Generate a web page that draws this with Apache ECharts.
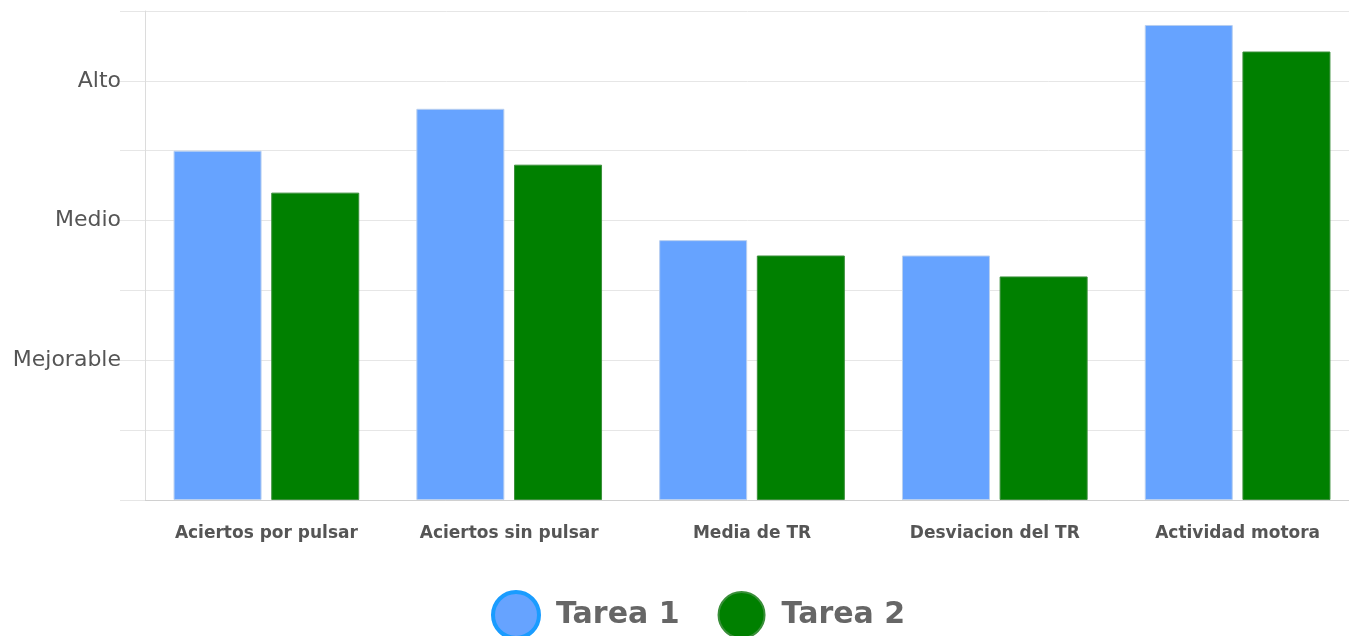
<!DOCTYPE html>
<html>
<head>
<meta charset="utf-8">
<script src="https://cdn.jsdelivr.net/npm/echarts@6/dist/echarts.min.js"></script>
<style>
  html, body { margin: 0; padding: 0; background: #fff; }
  #chart { width: 1349px; height: 636px; }
</style>
</head>
<body>
<div id="chart"></div>
<script>
// categorías y valores (escala 0-7, 2 = Mejorable, 4 = Medio, 6 = Alto)
const categories = ['Aciertos por pulsar', 'Aciertos sin pulsar', 'Media de TR', 'Desviacion del TR', 'Actividad motora'];
const tarea1 = [5.0, 5.6, 3.72, 3.5, 6.8];
const tarea2 = [4.4, 4.8, 3.5, 3.2, 6.42];
const levelLabels = { 2: 'Mejorable', 4: 'Medio', 6: 'Alto' };

const chart = echarts.init(document.getElementById('chart'));

const option = {
  animation: false,
  textStyle: { fontFamily: 'DejaVu Sans' },
  grid: { left: 145, top: 11, bottom: 136, right: -10, outerBoundsMode: 'none' },
  legend: {
    top: 585,
    left: 486,
    itemWidth: 46,
    itemHeight: 46,
    itemGap: 38,
    icon: 'circle',
    textStyle: {
      fontSize: 30, color: '#666', fontWeight: 'bold', fontFamily: 'DejaVu Sans',
      padding: [0, 0, 0, 12]
    },
    data: [
      { name: 'Tarea 1', itemStyle: { color: '#66a3ff', borderColor: '#1a9cff', borderWidth: 4 } },
      { name: 'Tarea 2', itemStyle: { color: '#008000' } }
    ]
  },
  xAxis: {
    type: 'category',
    data: categories,
    axisTick: { show: false },
    axisLine: { lineStyle: { color: '#d0d0d0', width: 1 } },
    axisLabel: { margin: 25, fontSize: 17, color: '#555', fontWeight: 'bold' }
  },
  yAxis: {
    type: 'value',
    min: 0,
    max: 7,
    interval: 1,
    axisLine: { show: true, lineStyle: { color: '#dcdcdc' } },
    axisTick: { show: true, length: 25, lineStyle: { color: '#e6e6e6' } },
    splitLine: { lineStyle: { color: '#e6e6e6' } },
    axisLabel: {
      margin: 24,
      fontSize: 22,
      color: '#555',
      formatter: v => levelLabels[v] || ''
    }
  },
  series: [
    {
      name: 'Tarea 1',
      type: 'bar',
      data: tarea1,
      barWidth: 88,
      barGap: '11%',
      itemStyle: { color: '#66a3ff', borderColor: '#b8cff0', borderWidth: 1 }
    },
    {
      name: 'Tarea 2',
      type: 'bar',
      data: tarea2,
      barWidth: 88,
      itemStyle: { color: '#008000', borderColor: '#3a8f3a', borderWidth: 1 }
    }
  ]
};

chart.setOption(option);
</script>
</body>
</html>
